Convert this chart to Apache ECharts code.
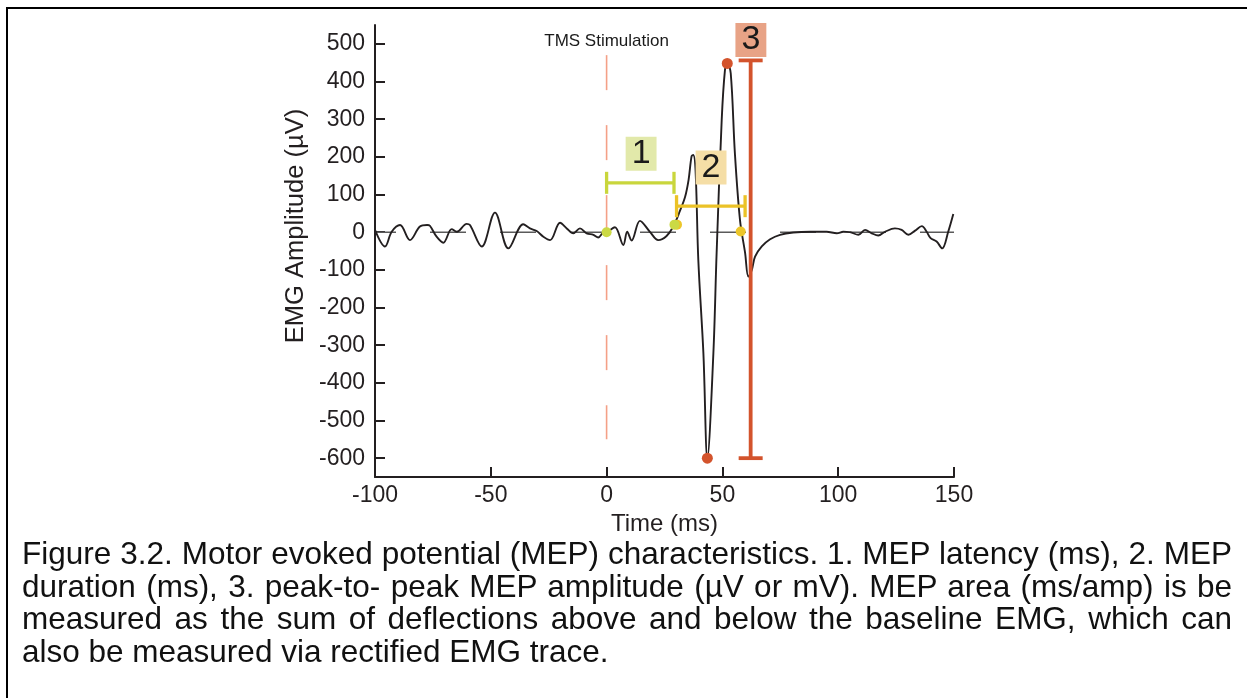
<!DOCTYPE html>
<html>
<head>
<meta charset="utf-8">
<script src="https://cdn.jsdelivr.net/npm/echarts@6/dist/echarts.min.js"></script>
<style>
  html, body { margin: 0; padding: 0; background: #fff; }
  #wrap { position: relative; width: 1247px; height: 698px; overflow: hidden; background: #fff; }
  #chart { position: absolute; left: 0; top: 0; width: 1247px; height: 698px; }
  #frame { position: absolute; left: 6px; top: 7px; right: -5px; bottom: -5px;
           border-top: 2px solid #000; border-left: 2px solid #000; pointer-events: none; }
  #caption { position: absolute; left: 22px; top: 537px; width: 1210px;
             font-family: "Liberation Sans", Arial, sans-serif; font-size: 31.5px;
             line-height: 32.6px; color: #111; }
  #caption div { white-space: nowrap; }
  #caption .j { text-align: justify; text-align-last: justify; }
</style>
</head>
<body>
<div id="wrap">
  <div id="chart"></div>
  <div id="frame"></div>
  <div id="caption">
    <div class="j">Figure 3.2. Motor evoked potential (MEP) characteristics. 1. MEP latency (ms), 2. MEP</div>
    <div class="j">duration (ms), 3. peak-to- peak MEP amplitude (µV or mV). MEP area (ms/amp) is be</div>
    <div class="j">measured as the sum of deflections above and below the baseline EMG, which can</div>
    <div>also be measured via rectified EMG trace.</div>
  </div>
</div>
<script>
// ---- data ----
const timeMs = [
  -100, -95.7, -92.8, -89.2, -84.9, -80.6, -77.5, -76.3, -73.4, -70.5, -66.9, -64.7, -60.4, -59,
  -53.9, -48.2, -42.4, -36, -33.1, -30.2, -27.3, -24.4, -20.1, -17.2, -14.4, -11.5, -8.6, -5.7,
  -3.6, -1.4, 0, 3.6, 7.2, 8.9, 10.8, 14.4, 18.7, 22.3, 25.9, 28.8, 31.7, 33.9, 35.4, 36.7, 37.4,
  38.4, 39.6, 41.8, 43.5, 46.1, 47.5, 49.7, 51.1, 52.1, 53.6, 55.4, 57.6, 59.8, 61.2, 62.7,
  64.1, 67, 70.6, 74.9, 80.6, 88, 95, 99.4, 102.2, 105.1, 108.7, 111.6, 114.5, 117.3, 120.2,
  124.5, 127.4, 130.3, 133.2, 136.1, 138.2, 139.9, 142.5, 144.9, 147.5, 149.7
];
const emgUv = [
  6, -38, 1, 19, -21, 15, 19, 17, -12, -28, 8, 1, 22, 19,
  -38, 52, -43, 21, 10, 3, -12, -21, 25, 10, -3, 10, -3, -7,
  -14, -1, 0, 13, -34, 1, -22, 30, 1, -21, -10, 15, 57, 94, 139, 202, 205,
  165, -74, -322, -600, -322, -56, 298, 430, 450, 422, 209, 32, -55, -118, -100,
  -65, -38, -19, -7, -1, 1, 1, -3, 1, 0, -7, 6, -3, -9, 1,
  10, 6, -7, 4, 16, 1, -16, -25, -43, 1, 48
];
const xTickValues = [-100, -50, 0, 50, 100, 150];
const yTickValues = [-600, -500, -400, -300, -200, -100, 0, 100, 200, 300, 400, 500];
const yRange = [-650, 550];

const tmsTime = 0;
const tmsSpan = [470, -550];
const latencyBracket = [0, 29.1];      // ms
const latencyLevel = 131;              // µV
const durationBracket = [30.2, 59.8];  // ms
const durationLevel = 69;              // µV
const amplitudeTime = 62.2;            // ms
const amplitudeBracket = [456, -600];  // µV
const onsetPoints = [[0, 0], [29.3, 20]];
const offsetPoints = [[30.4, 20], [57.9, 2]];
const peakPoints = [[52.1, 448], [43.5, -600]];
const labelPoints = { one: [14.9, 208], two: [45.1, 172], three: [62.3, 510] };
const tmsLabelPoint = [0, 508];

// ---- chart ----
const FONT = '"Liberation Sans", Arial, sans-serif';
const INK = '#231f20';
const chart = echarts.init(document.getElementById('chart'));

function bracket(data, color, width, capSize) {
  return {
    type: 'line', data: data, symbol: 'rect', symbolSize: capSize, showSymbol: true,
    lineStyle: { color: color, width: width }, itemStyle: { color: color, opacity: 1 },
    z: 5, silent: true, animation: false
  };
}
function textPoint(pt, text, size, bg, pad) {
  return {
    type: 'scatter', data: [pt], symbolSize: 1, itemStyle: { color: 'rgba(0,0,0,0)', opacity: 1 }, z: 6, animation: false,
    label: { show: true, position: 'inside', formatter: text, fontFamily: FONT, fontSize: size,
             color: '#1a1a1a', opacity: 1, backgroundColor: bg, padding: pad, lineHeight: bg ? 34 : size }
  };
}
function dots(data, color, size, z) {
  return { type: 'scatter', data: data, symbolSize: size, itemStyle: { color: color, opacity: 1 }, z: z };
}

chart.setOption({
  animation: false,
  backgroundColor: 'transparent',
  graphic: [{
    type: 'text', x: 296, y: 226, rotation: Math.PI / 2, z: 10,
    style: { text: 'EMG Amplitude (µV)', font: '25.5px ' + FONT, fill: INK, align: 'center', verticalAlign: 'middle' }
  }],
  grid: { left: 375, top: 25, width: 579, height: 452, containLabel: false },
  xAxis: {
    type: 'value', min: -100, max: 150, interval: 50,
    axisLine: { show: true, onZero: false, lineStyle: { color: INK, width: 2 } },
    axisTick: { show: true, inside: true, length: 10, lineStyle: { color: INK, width: 2 } },
    axisLabel: { fontFamily: FONT, fontSize: 23, color: INK, margin: 7 },
    splitLine: { show: false },
    name: 'Time (ms)', nameLocation: 'middle', nameGap: 29,
    nameTextStyle: { fontFamily: FONT, fontSize: 24, color: INK }
  },
  yAxis: {
    type: 'value', min: yRange[0], max: yRange[1],
    axisLine: { show: true, onZero: false, lineStyle: { color: INK, width: 2 } },
    axisTick: { show: true, inside: true, length: 10, customValues: yTickValues, lineStyle: { color: INK, width: 2 } },
    axisLabel: { fontFamily: FONT, fontSize: 23, color: INK, margin: 10, customValues: yTickValues },
    splitLine: { show: false }
  },
  series: [
    { type: 'line', data: [[-100, 0], [150, 0]], symbol: 'none', z: 1,
      lineStyle: { color: '#5a5a5a', width: 1.5, type: [36, 34], dashOffset: 15 } },
    { type: 'line', data: [[tmsTime, tmsSpan[0]], [tmsTime, tmsSpan[1]]], symbol: 'none', z: 1,
      lineStyle: { color: '#f4a087', width: 1.6, type: [35, 35] } },
    { type: 'line', data: timeMs.map((t, i) => [t, emgUv[i]]), symbol: 'none', smooth: 0.35, z: 3,
      lineStyle: { color: INK, width: 1.9 } },
    bracket([[latencyBracket[0], latencyLevel], [latencyBracket[1], latencyLevel]], '#c9d63c', 3.3, [3.3, 22]),
    bracket([[durationBracket[0], durationLevel], [durationBracket[1], durationLevel]], '#ebc227', 3.3, [3.3, 22]),
    bracket([[amplitudeTime, amplitudeBracket[0]], [amplitudeTime, amplitudeBracket[1]]], '#d3532c', 3.8, [24, 3.8]),
    dots(offsetPoints, '#ecc62a', 10, 7),
    dots(onsetPoints, '#cbd944', 10, 8),
    dots(peakPoints, '#d3532c', 11, 8),
    textPoint(labelPoints.one, '1', 34, '#e2e9aa', [0, 6, 0, 6]),
    textPoint(labelPoints.two, '2', 34, '#f5dea6', [0, 6, 0, 6]),
    textPoint(labelPoints.three, '3', 34, '#e8a386', [0, 6, 0, 6]),
    textPoint(tmsLabelPoint, 'TMS Stimulation', 17, null, 0)
  ]
});
</script>
</body>
</html>
